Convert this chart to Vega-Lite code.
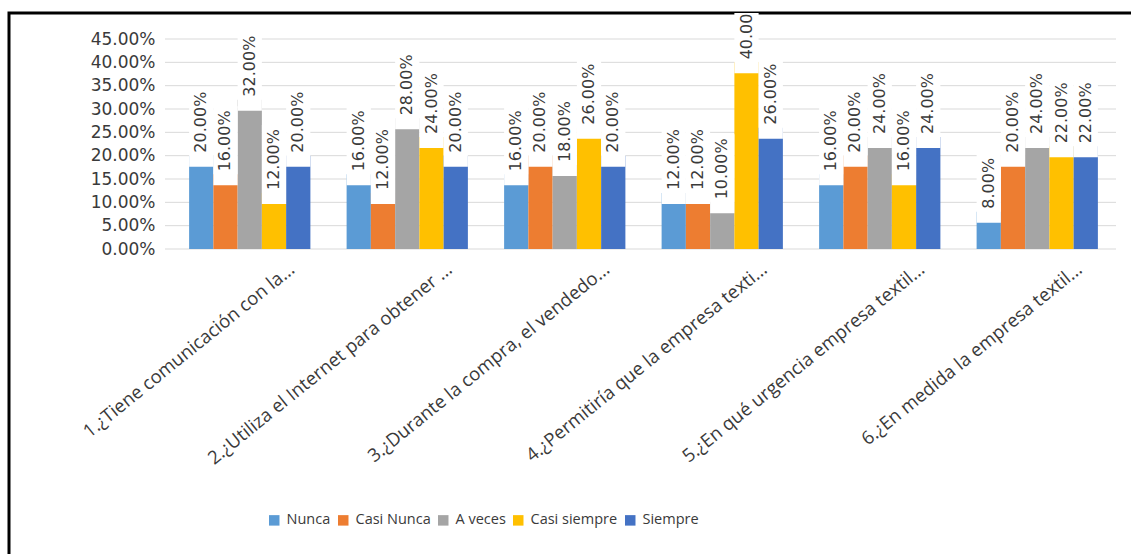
{
  "$schema": "https://vega.github.io/schema/vega-lite/v6.json",
  "width": 1140,
  "height": 560,
  "autosize": {"type": "none"},
  "padding": {"left": 9, "top": 13, "right": 0, "bottom": 0},
  "background": "white",
  "config": {
    "view": {"stroke": "#000000", "strokeWidth": 3},
    "font": "Open Sans",
    "axisY": {
      "title": null, "format": ".2%",
      "values": [0, 0.05, 0.10, 0.15, 0.20, 0.25, 0.30, 0.35, 0.40, 0.45],
      "grid": false, "domain": false, "ticks": false,
      "offset": -150, "labelPadding": 4,
      "labelFont": "DejaVu Sans", "labelFontSize": 17, "labelColor": "#3a3a3a"
    }
  },
  "datasets": {
    "respuestas": [
      {"pregunta": "1.¿Tiene comunicación con la...", "respuesta": "Nunca", "valor": 0.20},
      {"pregunta": "1.¿Tiene comunicación con la...", "respuesta": "Casi Nunca", "valor": 0.16},
      {"pregunta": "1.¿Tiene comunicación con la...", "respuesta": "A veces", "valor": 0.32},
      {"pregunta": "1.¿Tiene comunicación con la...", "respuesta": "Casi siempre", "valor": 0.12},
      {"pregunta": "1.¿Tiene comunicación con la...", "respuesta": "Siempre", "valor": 0.20},
      {"pregunta": "2.¿Utiliza el Internet para obtener ...", "respuesta": "Nunca", "valor": 0.16},
      {"pregunta": "2.¿Utiliza el Internet para obtener ...", "respuesta": "Casi Nunca", "valor": 0.12},
      {"pregunta": "2.¿Utiliza el Internet para obtener ...", "respuesta": "A veces", "valor": 0.28},
      {"pregunta": "2.¿Utiliza el Internet para obtener ...", "respuesta": "Casi siempre", "valor": 0.24},
      {"pregunta": "2.¿Utiliza el Internet para obtener ...", "respuesta": "Siempre", "valor": 0.20},
      {"pregunta": "3.¿Durante la compra, el vendedo...", "respuesta": "Nunca", "valor": 0.16},
      {"pregunta": "3.¿Durante la compra, el vendedo...", "respuesta": "Casi Nunca", "valor": 0.20},
      {"pregunta": "3.¿Durante la compra, el vendedo...", "respuesta": "A veces", "valor": 0.18},
      {"pregunta": "3.¿Durante la compra, el vendedo...", "respuesta": "Casi siempre", "valor": 0.26},
      {"pregunta": "3.¿Durante la compra, el vendedo...", "respuesta": "Siempre", "valor": 0.20},
      {"pregunta": "4.¿Permitiría que la empresa texti...", "respuesta": "Nunca", "valor": 0.12},
      {"pregunta": "4.¿Permitiría que la empresa texti...", "respuesta": "Casi Nunca", "valor": 0.12},
      {"pregunta": "4.¿Permitiría que la empresa texti...", "respuesta": "A veces", "valor": 0.10},
      {"pregunta": "4.¿Permitiría que la empresa texti...", "respuesta": "Casi siempre", "valor": 0.40},
      {"pregunta": "4.¿Permitiría que la empresa texti...", "respuesta": "Siempre", "valor": 0.26},
      {"pregunta": "5.¿En qué urgencia empresa textil...", "respuesta": "Nunca", "valor": 0.16},
      {"pregunta": "5.¿En qué urgencia empresa textil...", "respuesta": "Casi Nunca", "valor": 0.20},
      {"pregunta": "5.¿En qué urgencia empresa textil...", "respuesta": "A veces", "valor": 0.24},
      {"pregunta": "5.¿En qué urgencia empresa textil...", "respuesta": "Casi siempre", "valor": 0.16},
      {"pregunta": "5.¿En qué urgencia empresa textil...", "respuesta": "Siempre", "valor": 0.24},
      {"pregunta": "6.¿En medida la empresa textil...", "respuesta": "Nunca", "valor": 0.08},
      {"pregunta": "6.¿En medida la empresa textil...", "respuesta": "Casi Nunca", "valor": 0.20},
      {"pregunta": "6.¿En medida la empresa textil...", "respuesta": "A veces", "valor": 0.24},
      {"pregunta": "6.¿En medida la empresa textil...", "respuesta": "Casi siempre", "valor": 0.22},
      {"pregunta": "6.¿En medida la empresa textil...", "respuesta": "Siempre", "valor": 0.22}
    ],
    "lineas": [
      {"v": 0}, {"v": 0.05}, {"v": 0.10}, {"v": 0.15}, {"v": 0.20},
      {"v": 0.25}, {"v": 0.30}, {"v": 0.35}, {"v": 0.40}, {"v": 0.45}
    ]
  },
  "layer": [
    {
      "data": {"name": "lineas"},
      "mark": {"type": "rule", "color": "#d9d9d9", "strokeWidth": 1},
      "encoding": {
        "y": {"field": "v", "type": "quantitative", "scale": {"domain": [0, 0.45], "range": [236, 26], "nice": false, "zero": true}},
        "x": {"datum": 0, "type": "quantitative", "scale": {"domain": [0, 1], "range": [156, 1107]}, "axis": null},
        "x2": {"datum": 1}
      }
    },
    {
      "data": {"name": "respuestas"},
      "encoding": {
        "x": {
          "field": "pregunta", "type": "nominal", "sort": null,
          "scale": {"range": [162, 1107], "paddingInner": 0.23, "paddingOuter": 0.115},
          "axis": {
            "orient": "bottom", "offset": -324, "title": null,
            "domain": false, "ticks": false, "grid": false,
            "labelAngle": -39, "labelAlign": "right", "labelBaseline": "alphabetic",
            "labelPadding": 22, "labelOffset": 46, "labelLimit": 0,
            "labelFont": "Open Sans", "labelFontSize": 18.5, "labelColor": "#3a3a3a"
          }
        },
        "xOffset": {
          "field": "respuesta", "type": "nominal",
          "sort": ["Nunca", "Casi Nunca", "A veces", "Casi siempre", "Siempre"],
          "scale": {"paddingInner": 0, "paddingOuter": 0}
        },
        "y": {"field": "valor", "type": "quantitative"}
      },
      "layer": [
        {
          "mark": {"type": "bar"},
          "encoding": {
            "color": {
              "field": "respuesta", "type": "nominal",
              "scale": {
                "domain": ["Nunca", "Casi Nunca", "A veces", "Casi siempre", "Siempre"],
                "range": ["#5b9bd5", "#ed7d31", "#a5a5a5", "#ffc000", "#4472c4"]
              },
              "legend": {
                "orient": "none", "legendX": 258, "legendY": 500,
                "direction": "horizontal", "title": null,
                "symbolType": "square", "symbolSize": 110, "symbolStrokeWidth": 0,
                "labelFont": "Open Sans", "labelFontSize": 14.5, "labelColor": "#3a3a3a",
                "labelOffset": 5, "columnPadding": 5
              }
            }
          }
        },
        {
          "mark": {"type": "bar", "color": "white", "yOffset": -68, "y2Offset": 11, "clip": true},
          "encoding": {"y2": {"field": "valor"}}
        },
        {
          "mark": {
            "type": "text", "angle": 270, "align": "left", "baseline": "middle",
            "yOffset": -3, "font": "DejaVu Sans", "fontSize": 16, "color": "#3a3a3a",
            "clip": true
          },
          "encoding": {"text": {"field": "valor", "type": "quantitative", "format": ".2%"}}
        }
      ]
    }
  ],
  "resolve": {"scale": {"x": "independent"}}
}
